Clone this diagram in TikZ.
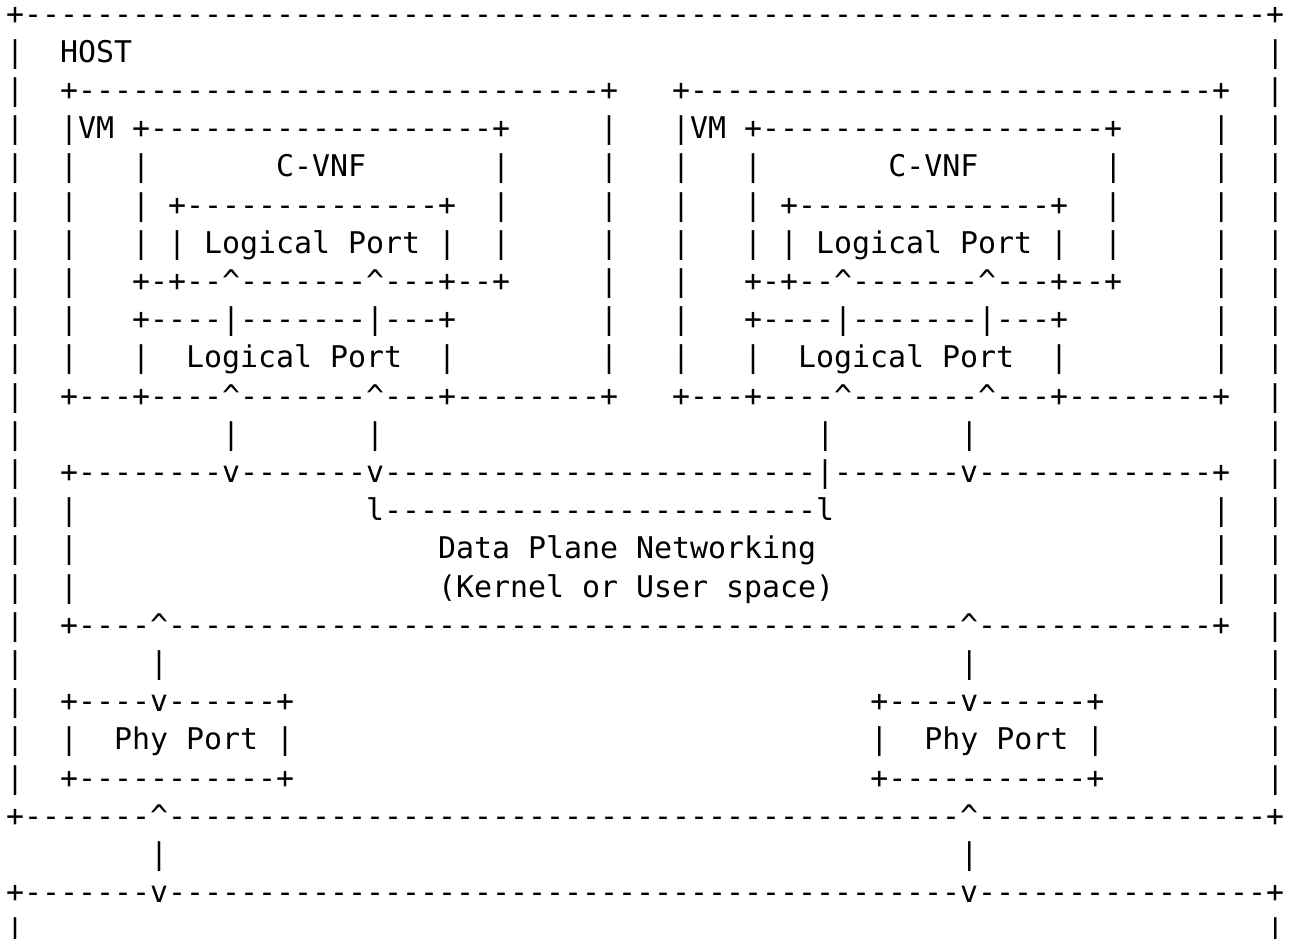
\documentclass[tikz,border=0pt]{standalone}
\usepackage{fontspec}
\setmonofont{DejaVu Sans Mono}

\newcommand\artrow{\begingroup\catcode`\^=12\relax\obeyspaces\artrowaux}
\newcommand\artrowaux[2]{\node[artline] (row#1) at (6,{24+38.2*(#1-1)}) {\null#2};\endgroup}

\begin{document}
\begin{tikzpicture}[
    x=1pt,y=-1pt,
    artline/.style={anchor=base west,inner sep=0pt,
      font=\ttfamily\frenchspacing\fontsize{29.9}{36}\selectfont}
  ]
  \useasboundingbox (0,0) rectangle (1292,938);
  \artrow{1}{+---------------------------------------------------------------------+}
  \artrow{2}{|  HOST                                                               |}
  \artrow{3}{|  +-----------------------------+   +-----------------------------+  |}
  \artrow{4}{|  |VM +-------------------+     |   |VM +-------------------+     |  |}
  \artrow{5}{|  |   |       C-VNF       |     |   |   |       C-VNF       |     |  |}
  \artrow{6}{|  |   | +--------------+  |     |   |   | +--------------+  |     |  |}
  \artrow{7}{|  |   | | Logical Port |  |     |   |   | | Logical Port |  |     |  |}
  \artrow{8}{|  |   +-+--^-------^---+--+     |   |   +-+--^-------^---+--+     |  |}
  \artrow{9}{|  |   +----|-------|---+        |   |   +----|-------|---+        |  |}
  \artrow{10}{|  |   |  Logical Port  |        |   |   |  Logical Port  |        |  |}
  \artrow{11}{|  +---+----^-------^---+--------+   +---+----^-------^---+--------+  |}
  \artrow{12}{|           |       |                        |       |                |}
  \artrow{13}{|  +--------v-------v------------------------|-------v-------------+  |}
  \artrow{14}{|  |                l------------------------l                     |  |}
  \artrow{15}{|  |                    Data Plane Networking                      |  |}
  \artrow{16}{|  |                    (Kernel or User space)                     |  |}
  \artrow{17}{|  +----^--------------------------------------------^-------------+  |}
  \artrow{18}{|       |                                            |                |}
  \artrow{19}{|  +----v------+                                +----v------+         |}
  \artrow{20}{|  |  Phy Port |                                |  Phy Port |         |}
  \artrow{21}{|  +-----------+                                +-----------+         |}
  \artrow{22}{+-------^--------------------------------------------^----------------+}
  \artrow{23}{        |                                            |}
  \artrow{24}{+-------v--------------------------------------------v----------------+}
  \artrow{25}{|                                                                     |}
\end{tikzpicture}
\end{document}
